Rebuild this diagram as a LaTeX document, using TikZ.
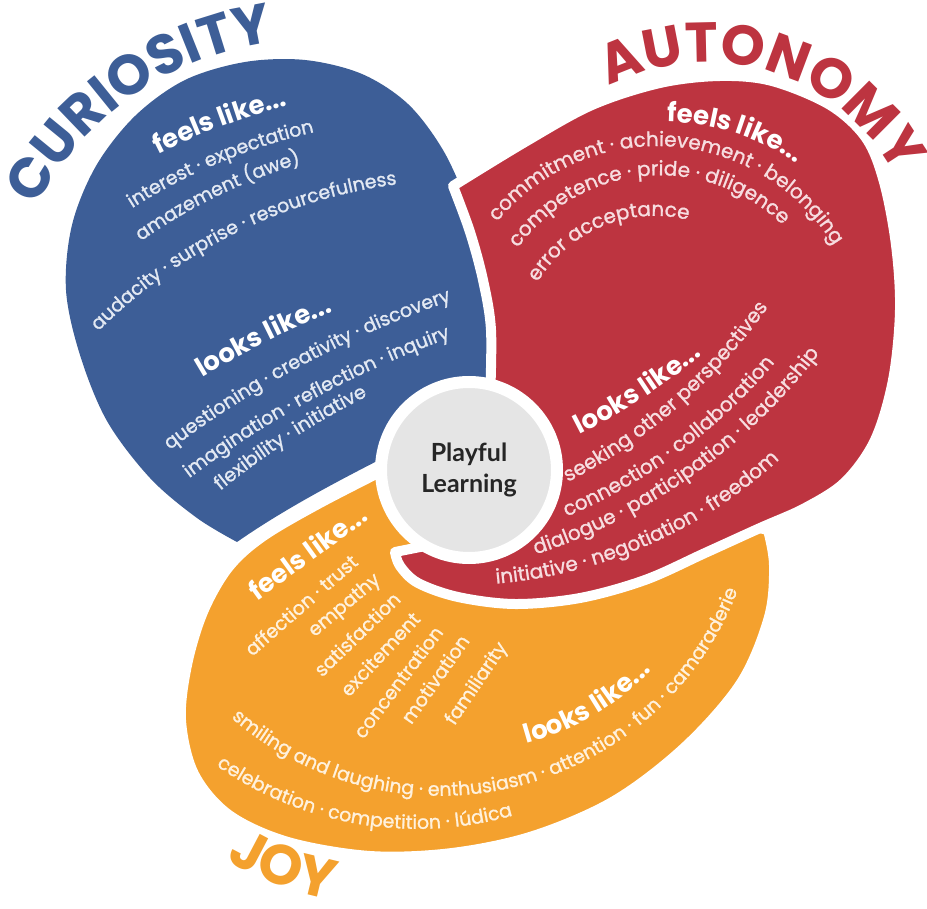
\documentclass[tikz,border=0pt]{standalone}
\usepackage{fontspec}
\setmainfont{Poppins}
\newfontfamily\medfont{Poppins}[FakeBold=1.2]
\newfontfamily\latofont{Lato}
\usetikzlibrary{decorations.text}
\definecolor{cBlue}{HTML}{3D5E97}
\definecolor{cRed}{HTML}{BD3440}
\definecolor{cOrange}{HTML}{F4A12E}
\definecolor{cGrey}{HTML}{E5E5E5}
\definecolor{tBlue}{HTML}{E3E9F3}
\definecolor{tRed}{HTML}{F7DDE0}
\definecolor{tOrange}{HTML}{FFF1DD}
\newcommand\fTitB{\fontsize{56}{56}\selectfont\bfseries\color{cBlue}}
\newcommand\fTitR{\fontsize{56}{56}\selectfont\bfseries\color{cRed}}
\newcommand\fTitO{\fontsize{56}{56}\selectfont\bfseries\color{cOrange}}
\newcommand\fHd{\fontsize{26}{26}\selectfont\bfseries\color{white}}
\newcommand\fIB{\fontsize{19}{19}\selectfont\medfont\color{tBlue}}
\newcommand\fIR{\fontsize{20}{20}\selectfont\medfont\color{tRed}}
\newcommand\fIO{\fontsize{19}{19}\selectfont\medfont\color{tOrange}}
% #1,#2 start (px, screen) #3,#4 end  #5 radius  #6 dir (1 cw, -1 ccw)  #7 baseline offset  #8 format  #9 text
\newcommand\arcText[9]{%
  \pgfmathsetmacro\CTsx{#1/100}%
  \pgfmathsetmacro\CTsy{-#2/100}%
  \pgfmathsetmacro\CTex{#3/100}%
  \pgfmathsetmacro\CTey{-#4/100}%
  \pgfmathsetmacro\CTdx{\CTex-\CTsx}%
  \pgfmathsetmacro\CTdy{\CTey-\CTsy}%
  \pgfmathsetmacro\CTL{sqrt(\CTdx*\CTdx+\CTdy*\CTdy)}%
  \pgfmathsetmacro\CTR{#5/100}%
  \pgfmathsetmacro\CTh{sqrt(\CTR*\CTR-\CTL*\CTL/4)}%
  \pgfmathsetmacro\CTcx{(\CTsx+\CTex)/2+(#6)*\CTh*\CTdy/\CTL}%
  \pgfmathsetmacro\CTcy{(\CTsy+\CTey)/2-(#6)*\CTh*\CTdx/\CTL}%
  \pgfmathsetmacro\CTma{atan2((\CTsy+\CTey)/2-\CTcy,(\CTsx+\CTex)/2-\CTcx)}%
  \pgfmathsetmacro\CTrb{100*\CTR-(#6)*#7}%
  \pgfmathsetmacro\CThs{min(80,asin(\CTL/(2*\CTR))+25)}%
  \pgfmathsetmacro\CTsa{\CTma+(#6)*\CThs}%
  \pgfmathsetmacro\CTea{\CTma-(#6)*\CThs}%
  \pgfmathsetmacro\CTpx{100*\CTcx+\CTrb*cos(\CTsa)}%
  \pgfmathsetmacro\CTpy{100*\CTcy+\CTrb*sin(\CTsa)}%
  \path[decorate,decoration={text along path,text align=center,text={|#8|#9}}]
    (\CTpx,\CTpy) arc[start angle=\CTsa,end angle=\CTea,radius=\CTrb];%
}
\tikzset{
  gapedge/.style={draw=white, line width=10pt, line join=round},
  itemO/.style={font=\fontsize{19}{19}\selectfont\medfont, text=tOrange, inner sep=0pt},
  headO/.style={font=\fontsize{26}{26}\selectfont\bfseries, text=white, inner sep=0pt},
  hub/.style={circle, fill=cGrey, draw=white, line width=12pt, minimum size=176pt, inner sep=0pt,
    align=center, font=\latofont\fontsize{25}{31}\selectfont\bfseries, text=black!85}
}
\begin{document}
\begin{tikzpicture}[x=1pt,y=1pt]
\useasboundingbox (0,0) rectangle (927,-909);
\fill[white] (0,0) rectangle (927,-909);
% ---- blue (curiosity)
\fill[cBlue] plot[smooth, tension=0.55] coordinates {(237,-542) (197,-518) (150,-478) (107,-421) (80,-355) (66,-290) (72,-225) (96,-166) (135,-116) (185,-80) (245,-62) (305,-60) (362,-74) (408,-104) (443,-150) (468,-205) (488,-262) (500,-330) (500,-400) (470,-470)}
  -- (383,-458) .. controls (330,-485) and (280,-512) .. (237,-542) -- cycle;
% ---- orange (joy)
\fill[cOrange, gapedge] plot[smooth, tension=0.55] coordinates {(400,-462) (320,-503) (262,-537) (228,-568) (203,-612) (187,-665) (181,-720) (194,-774) (229,-815) (288,-842) (370,-856) (452,-853) (533,-836) (614,-801) (685,-747) (741,-683) (769,-617) (774,-565) (768,-530)}
  -- (700,-515) -- (560,-500) -- (470,-470) -- cycle;
% ---- red (autonomy)
\fill[cRed, gapedge] plot[smooth, tension=0.55] coordinates {(453,-186) (525,-142) (592,-105) (660,-83) (720,-76) (772,-81) (830,-105) (866,-138) (884,-182) (896,-245) (900,-310) (893,-380) (875,-440) (845,-482) (805,-508) (760,-528) (705,-553) (645,-580) (580,-598) (515,-604) (458,-597) (418,-583) (400,-566) (395,-552)}
  -- (430,-545) -- (470,-470)
  -- plot[smooth, tension=0.55] coordinates {(490,-400) (491,-330) (483,-280) (470,-232) (453,-186)} -- cycle;
% ---- hub
\node[hub] (pl) at (469,-470) {Playful\\Learning};
% ---- titles
\arcText{33}{172}{242}{27}{336}{1}{20}{\fTitB}{CURIOSITY}
\arcText{623}{58}{900}{144}{234}{1}{20}{\fTitR}{AUTONOMY}
\arcText{247}{849}{322}{877}{300}{-1}{20}{\fTitO}{JOY}
% ---- curiosity texts
\arcText{153}{147}{287}{97}{628}{1}{9}{\fHd}{feels like...}
\arcText{130}{203}{312}{127}{590}{1}{5.5}{\fIB}{interest · expectation}
\arcText{143}{233}{293}{160}{560}{1}{5.5}{\fIB}{amazement (awe)}
\arcText{100}{322}{388}{180}{522}{1}{5.5}{\fIB}{audacity · surprise · resourcefulness}
\arcText{197}{370}{330}{303}{1000}{1}{9}{\fHd}{looks like...}
\arcText{170}{443}{445}{297}{1000}{1}{5.5}{\fIB}{questioning · creativity · discovery}
\arcText{187}{473}{447}{333}{1000}{1}{5.5}{\fIB}{imagination · reflection · inquiry}
\arcText{215}{488}{367}{390}{800}{1}{5.5}{\fIB}{flexibility · initiative}
% ---- autonomy texts
\arcText{673}{113}{797}{153}{241}{1}{9}{\fHd}{feels like...}
\arcText{503}{207}{830}{230}{212}{1}{5.5}{\fIR}{commitment · achievement · belonging}
\arcText{517}{240}{782}{217}{181}{1}{5.5}{\fIR}{competence · pride · diligence}
\arcText{537}{273}{682}{213}{142}{1}{5.5}{\fIR}{error acceptance}
\arcText{575}{427}{697}{348}{700}{-1}{9}{\fHd}{looks like...}
\arcText{575}{472}{757}{313}{550}{-1}{5.5}{\fIR}{seeking other perspectives}
\arcText{575}{507}{763}{368}{550}{-1}{5.5}{\fIR}{connection · collaboration}
\arcText{552}{543}{803}{365}{580}{-1}{5.5}{\fIR}{dialogue · participation · leadership}
\arcText{507}{577}{767}{463}{470}{-1}{5.5}{\fIR}{initiative · negotiation · freedom}
% ---- joy texts
\node[headO, rotate=36] (jf) at (307,-552) {feels like...};
\node[itemO, rotate=41] (j1) at (301,-605) {affection · trust};
\node[itemO, rotate=40] (j2) at (345,-606) {empathy};
\node[itemO, rotate=44] (j3) at (357,-634) {satisfaction};
\node[itemO, rotate=47] (j4) at (380,-654) {excitement};
\node[itemO, rotate=53] (j5) at (398,-682) {concentration};
\node[itemO, rotate=55] (j6) at (435,-679) {motivation};
\node[itemO, rotate=56] (j7) at (477,-684) {familiarity};
\arcText{525}{735}{645}{665}{275}{-1}{9}{\fHd}{looks like...}
\arcText{240}{718}{730}{595}{313}{-1}{5.5}{\fIO}{smiling and laughing · enthusiasm · attention · fun · camaraderie}
\arcText{225}{765}{505}{812}{345}{-1}{5.5}{\fIO}{celebration · competition · lúdica}
\end{tikzpicture}
\end{document}
